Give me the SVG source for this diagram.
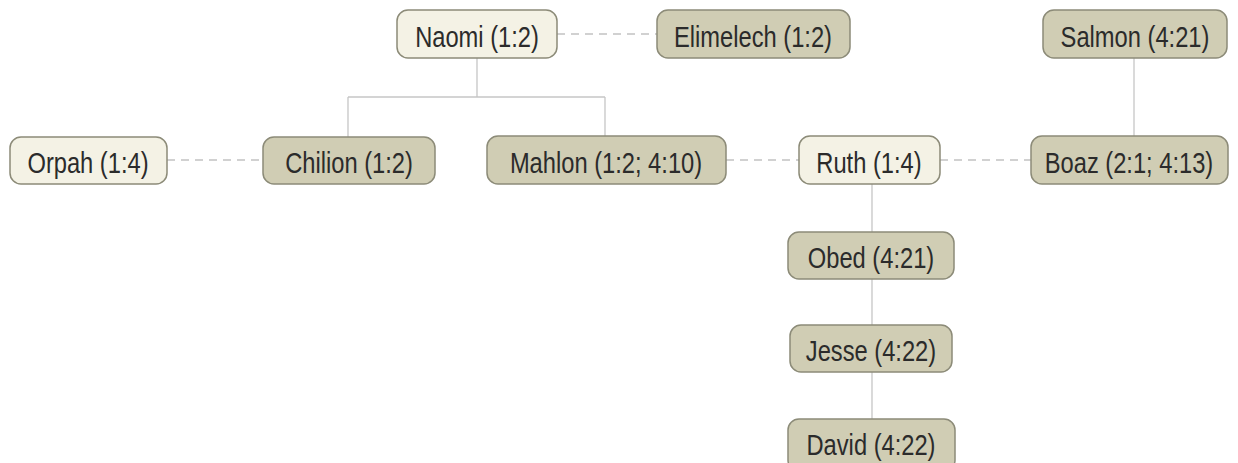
<svg xmlns="http://www.w3.org/2000/svg" width="1238" height="463" viewBox="0 0 1238 463">
<style>
.box rect{stroke:#8c8b78;stroke-width:1.5}
.light rect{fill:#f4f2e5}
.dark rect{fill:#d0cdb4}
text{font-family:"Liberation Sans",Arial,sans-serif;font-size:30px;fill:#2b2b2b;text-anchor:middle}
.solid{stroke:#c6c6c6;stroke-width:1.3;fill:none}
.dash{stroke:#c2c2c2;stroke-width:1.3;fill:none;stroke-dasharray:8 6}
</style>
<rect width="1238" height="463" fill="#ffffff"/>
<g id="connectors">
<path class="dash" d="M557 34H657"/>
<path class="solid" d="M477 58V97M348 97H605M348 97V137M605 97V136"/>
<path class="dash" d="M167 160H263"/>
<path class="dash" d="M726 160H799"/>
<path class="dash" d="M940 160H1031"/>
<path class="solid" d="M1134 58V136"/>
<path class="solid" d="M872 184V232M872 279V325M872 372V419"/>
</g>
<g id="naomi" class="box light"><rect x="397" y="10" width="160" height="48" rx="11"/><text transform="translate(477 47) scale(0.79 1)">Naomi (1:2)</text></g>
<g id="elimelech" class="box dark"><rect x="657" y="10" width="193" height="48" rx="11"/><text transform="translate(753 47) scale(0.79 1)">Elimelech (1:2)</text></g>
<g id="salmon" class="box dark"><rect x="1043" y="10" width="184" height="48" rx="11"/><text transform="translate(1135 47) scale(0.79 1)">Salmon (4:21)</text></g>
<g id="orpah" class="box light"><rect x="10" y="137" width="157" height="47" rx="11"/><text transform="translate(88 173) scale(0.79 1)">Orpah (1:4)</text></g>
<g id="chilion" class="box dark"><rect x="263" y="137" width="172" height="47" rx="11"/><text transform="translate(349 173) scale(0.79 1)">Chilion (1:2)</text></g>
<g id="mahlon" class="box dark"><rect x="487" y="136" width="239" height="48" rx="11"/><text transform="translate(606 173) scale(0.79 1)">Mahlon (1:2; 4:10)</text></g>
<g id="ruth" class="box light"><rect x="799" y="136" width="141" height="48" rx="11"/><text transform="translate(869 173) scale(0.79 1)">Ruth (1:4)</text></g>
<g id="boaz" class="box dark"><rect x="1031" y="136" width="197" height="48" rx="11"/><text transform="translate(1129 173) scale(0.79 1)">Boaz (2:1; 4:13)</text></g>
<g id="obed" class="box dark"><rect x="788" y="232" width="166" height="47" rx="11"/><text transform="translate(871 268) scale(0.79 1)">Obed (4:21)</text></g>
<g id="jesse" class="box dark"><rect x="790" y="325" width="162" height="47" rx="11"/><text transform="translate(871 361) scale(0.79 1)">Jesse (4:22)</text></g>
<g id="david" class="box dark"><rect x="788" y="419" width="167" height="52" rx="11"/><text transform="translate(871 455) scale(0.79 1)">David (4:22)</text></g>
</svg>
